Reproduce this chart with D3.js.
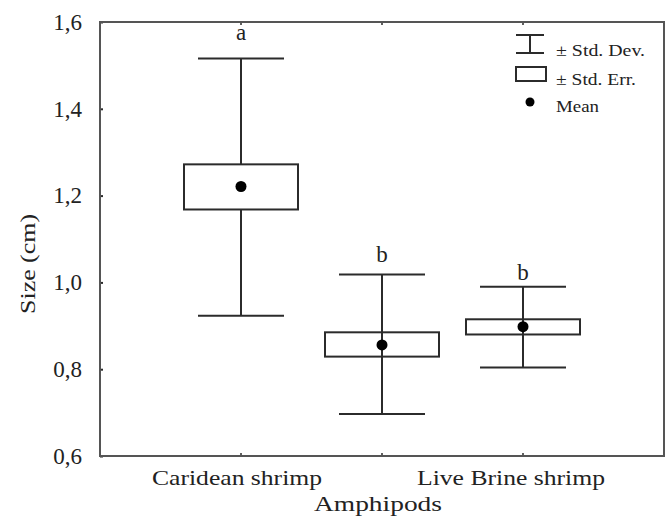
<!DOCTYPE html>
<html><head><meta charset="utf-8">
<script src="https://cdn.jsdelivr.net/npm/d3@7"></script>
<style>body{margin:0;background:#fff}svg{display:block}text{font-family:"Liberation Serif","Times New Roman",serif;fill:#222}</style>
</head><body>
<svg id="c" width="671" height="527"></svg>
<script>
const categories = ["Caridean shrimp", "Amphipods", "Live Brine shrimp"];
const means  = [1.221, 0.856, 0.898];
const seLow  = [1.168, 0.829, 0.880];
const seHigh = [1.272, 0.885, 0.915];
const sdLow  = [0.923, 0.697, 0.804];
const sdHigh = [1.516, 1.018, 0.990];
const letters = ["a", "b", "b"];
const letterAt = [1.558, 1.047, 1.005];
const yTicks = [0.6, 0.8, 1.0, 1.2, 1.4, 1.6];

const svg = d3.select("#c");
const L = 100, R = 664, T = 22, B = 456;
const x = d3.scalePoint().domain(categories).range([L, R]).padding(1);
const y = d3.scaleLinear().domain([0.6, 1.6]).range([B, T]);
const fmt = d => d3.format(".1f")(d).replace(".", ",");
const ink = "#2b2b2b";

// y axis tick labels
const ya = svg.append("g").attr("transform", `translate(${L},0)`)
  .call(d3.axisLeft(y).tickValues(yTicks).tickSize(-3).tickPadding(18).tickFormat(fmt));
ya.select(".domain").remove();
ya.selectAll("line").attr("stroke", ink).attr("stroke-width", 2);
ya.selectAll("text").attr("font-size", 23).attr("fill", "#333").style("font-family", '"Liberation Serif",serif');

// x tick labels (staggered)
categories.forEach((c, i) => {
  svg.append("text").attr("x", x(c)).attr("y", i === 1 ? 511 : 485)
    .attr("text-anchor", "middle").attr("font-size", 22).attr("fill", "#333")
    .attr("textLength", i === 1 ? 128 : (i === 0 ? 170 : 188)).attr("lengthAdjust", "spacingAndGlyphs")
    .attr("dx", i === 2 ? -12 : -4)
    .text(c);
});
// small ticks top/bottom
categories.forEach(c => {
  svg.append("line").attr("x1", x(c)).attr("x2", x(c)).attr("y1", T).attr("y2", T + 3).attr("stroke", ink).attr("stroke-width", 1.5);
  svg.append("line").attr("x1", x(c)).attr("x2", x(c)).attr("y1", B).attr("y2", B - 3).attr("stroke", ink).attr("stroke-width", 1.5);
});

// y title
svg.append("text").attr("transform", `translate(35,264) rotate(-90)`)
  .attr("text-anchor", "middle").attr("font-size", 22).attr("fill", "#333")
  .attr("textLength", 100).attr("lengthAdjust", "spacingAndGlyphs").text("Size (cm)");

// frame
svg.append("rect").attr("x", L).attr("y", T).attr("width", R - L).attr("height", B - T)
  .attr("fill", "none").attr("stroke", "#555").attr("stroke-width", 2);

const capW = 86, boxW = 114;
categories.forEach((c, i) => {
  const cx = x(c);
  const g = svg.append("g").attr("stroke", ink).attr("stroke-width", 2).attr("fill", "none");
  g.append("line").attr("x1", cx).attr("x2", cx).attr("y1", y(sdHigh[i])).attr("y2", y(seHigh[i]));
  g.append("line").attr("x1", cx).attr("x2", cx).attr("y1", y(seLow[i])).attr("y2", y(sdLow[i]));
  g.append("line").attr("x1", cx - capW / 2).attr("x2", cx + capW / 2).attr("y1", y(sdHigh[i])).attr("y2", y(sdHigh[i]));
  g.append("line").attr("x1", cx - capW / 2).attr("x2", cx + capW / 2).attr("y1", y(sdLow[i])).attr("y2", y(sdLow[i]));
  g.append("rect").attr("x", cx - boxW / 2).attr("width", boxW)
    .attr("y", y(seHigh[i])).attr("height", y(seLow[i]) - y(seHigh[i])).attr("fill", "#fff");
  if (i > 0) g.append("line").attr("x1", cx).attr("x2", cx).attr("y1", y(seHigh[i])).attr("y2", y(seLow[i]));
  svg.append("circle").attr("cx", cx).attr("cy", y(means[i])).attr("r", 5.5).attr("fill", "#000");
  svg.append("text").attr("x", cx).attr("y", y(letterAt[i])).attr("text-anchor", "middle")
    .attr("font-size", 23).attr("fill", "#333").text(letters[i]);
});

// legend
const lg = svg.append("g");
lg.append("line").attr("x1", 516).attr("x2", 544).attr("y1", 35).attr("y2", 35).attr("stroke", ink).attr("stroke-width", 2);
lg.append("line").attr("x1", 516).attr("x2", 544).attr("y1", 53).attr("y2", 53).attr("stroke", ink).attr("stroke-width", 2);
lg.append("line").attr("x1", 530).attr("x2", 530).attr("y1", 35).attr("y2", 53).attr("stroke", ink).attr("stroke-width", 2);
lg.append("rect").attr("x", 516).attr("y", 67).attr("width", 30).attr("height", 14).attr("fill", "#fff").attr("stroke", ink).attr("stroke-width", 2);
lg.append("circle").attr("cx", 530).attr("cy", 102).attr("r", 4.5).attr("fill", "#000");
const lt = [["± Std. Dev.", 56], ["± Std. Err.", 85], ["Mean", 112]];
lt.forEach(([t, yy]) => lg.append("text").attr("x", 556).attr("y", yy).attr("font-size", 17).attr("fill", "#222")
  .attr("textLength", t === "Mean" ? 43 : (t.includes("Dev") ? 89 : 80)).attr("lengthAdjust", "spacingAndGlyphs").text(t));
</script>
</body></html>
